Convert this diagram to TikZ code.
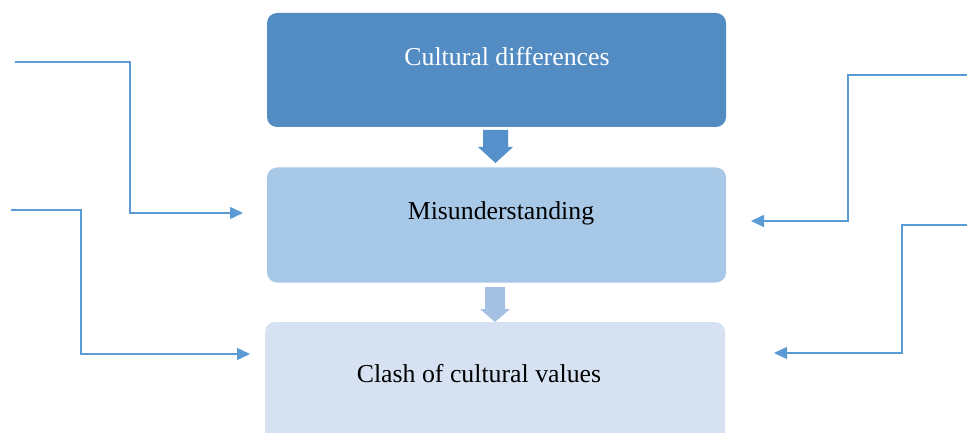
\documentclass[tikz,border=0pt]{standalone}
\usepackage{fontspec}
\setmainfont{Liberation Serif}
\usetikzlibrary{arrows.meta}
\definecolor{boxA}{HTML}{538CC3}
\definecolor{boxB}{HTML}{A8C8E7}
\definecolor{boxC}{HTML}{D6E2F2}
\definecolor{lineC}{HTML}{5B9BD5}
\definecolor{arrA}{HTML}{5590CA}
\definecolor{arrB}{HTML}{A4C1E4}
\tikzset{
  flowbox/.style={rectangle, rounded corners=10pt, minimum width=459pt, inner sep=0pt, draw=none},
  boxtext/.style={font=\fontsize{25.8}{30}\selectfont, inner sep=0pt},
  link/.style={draw=lineC, line width=1.5pt, -{Triangle[length=13pt,width=12pt]}}
}
\begin{document}
\begin{tikzpicture}[x=1pt,y=-1pt]
\clip (0,0) rectangle (967,433);
\fill[white] (0,0) rectangle (967,433);
% boxes
\node[flowbox, fill=boxA, minimum height=114pt] (b1) at (496.5,70) {};
\node[flowbox, fill=boxB, minimum height=115pt] (b2) at (496.5,225) {};
\node[flowbox, fill=boxC, minimum height=126pt, minimum width=460pt] (b3) at (495,385) {};
\node[boxtext, text=white] (t1) at (507,57) {Cultural differences};
\node[boxtext, text=black] (t2) at (501,213) {Misunderstanding};
\node[boxtext, text=black] (t3) at (479,374) {Clash of cultural values};
% block arrows
\fill[arrA] (483,130) -- (508,130) -- (508,147) -- (513,147) -- (495.5,163) -- (478,147) -- (483,147) -- cycle;
\fill[arrB] (485,287) -- (505,287) -- (505,309) -- (510,309) -- (495,322) -- (480,309) -- (485,309) -- cycle;
% connectors
\coordinate (la) at (15,62);
\coordinate (lat) at (243,213);
\coordinate (lb) at (11,210);
\coordinate (lbt) at (250,354);
\coordinate (rc) at (967,75);
\coordinate (rct) at (751,221);
\coordinate (rd) at (967,225);
\coordinate (rdt) at (774,353);
\draw[link] (la) -- (130,62) -- (130,213) -- (lat);
\draw[link] (lb) -- (81,210) -- (81,354) -- (lbt);
\draw[link] (rc) -- (848,75) -- (848,221) -- (rct);
\draw[link] (rd) -- (902,225) -- (902,353) -- (rdt);
\end{tikzpicture}
\end{document}
